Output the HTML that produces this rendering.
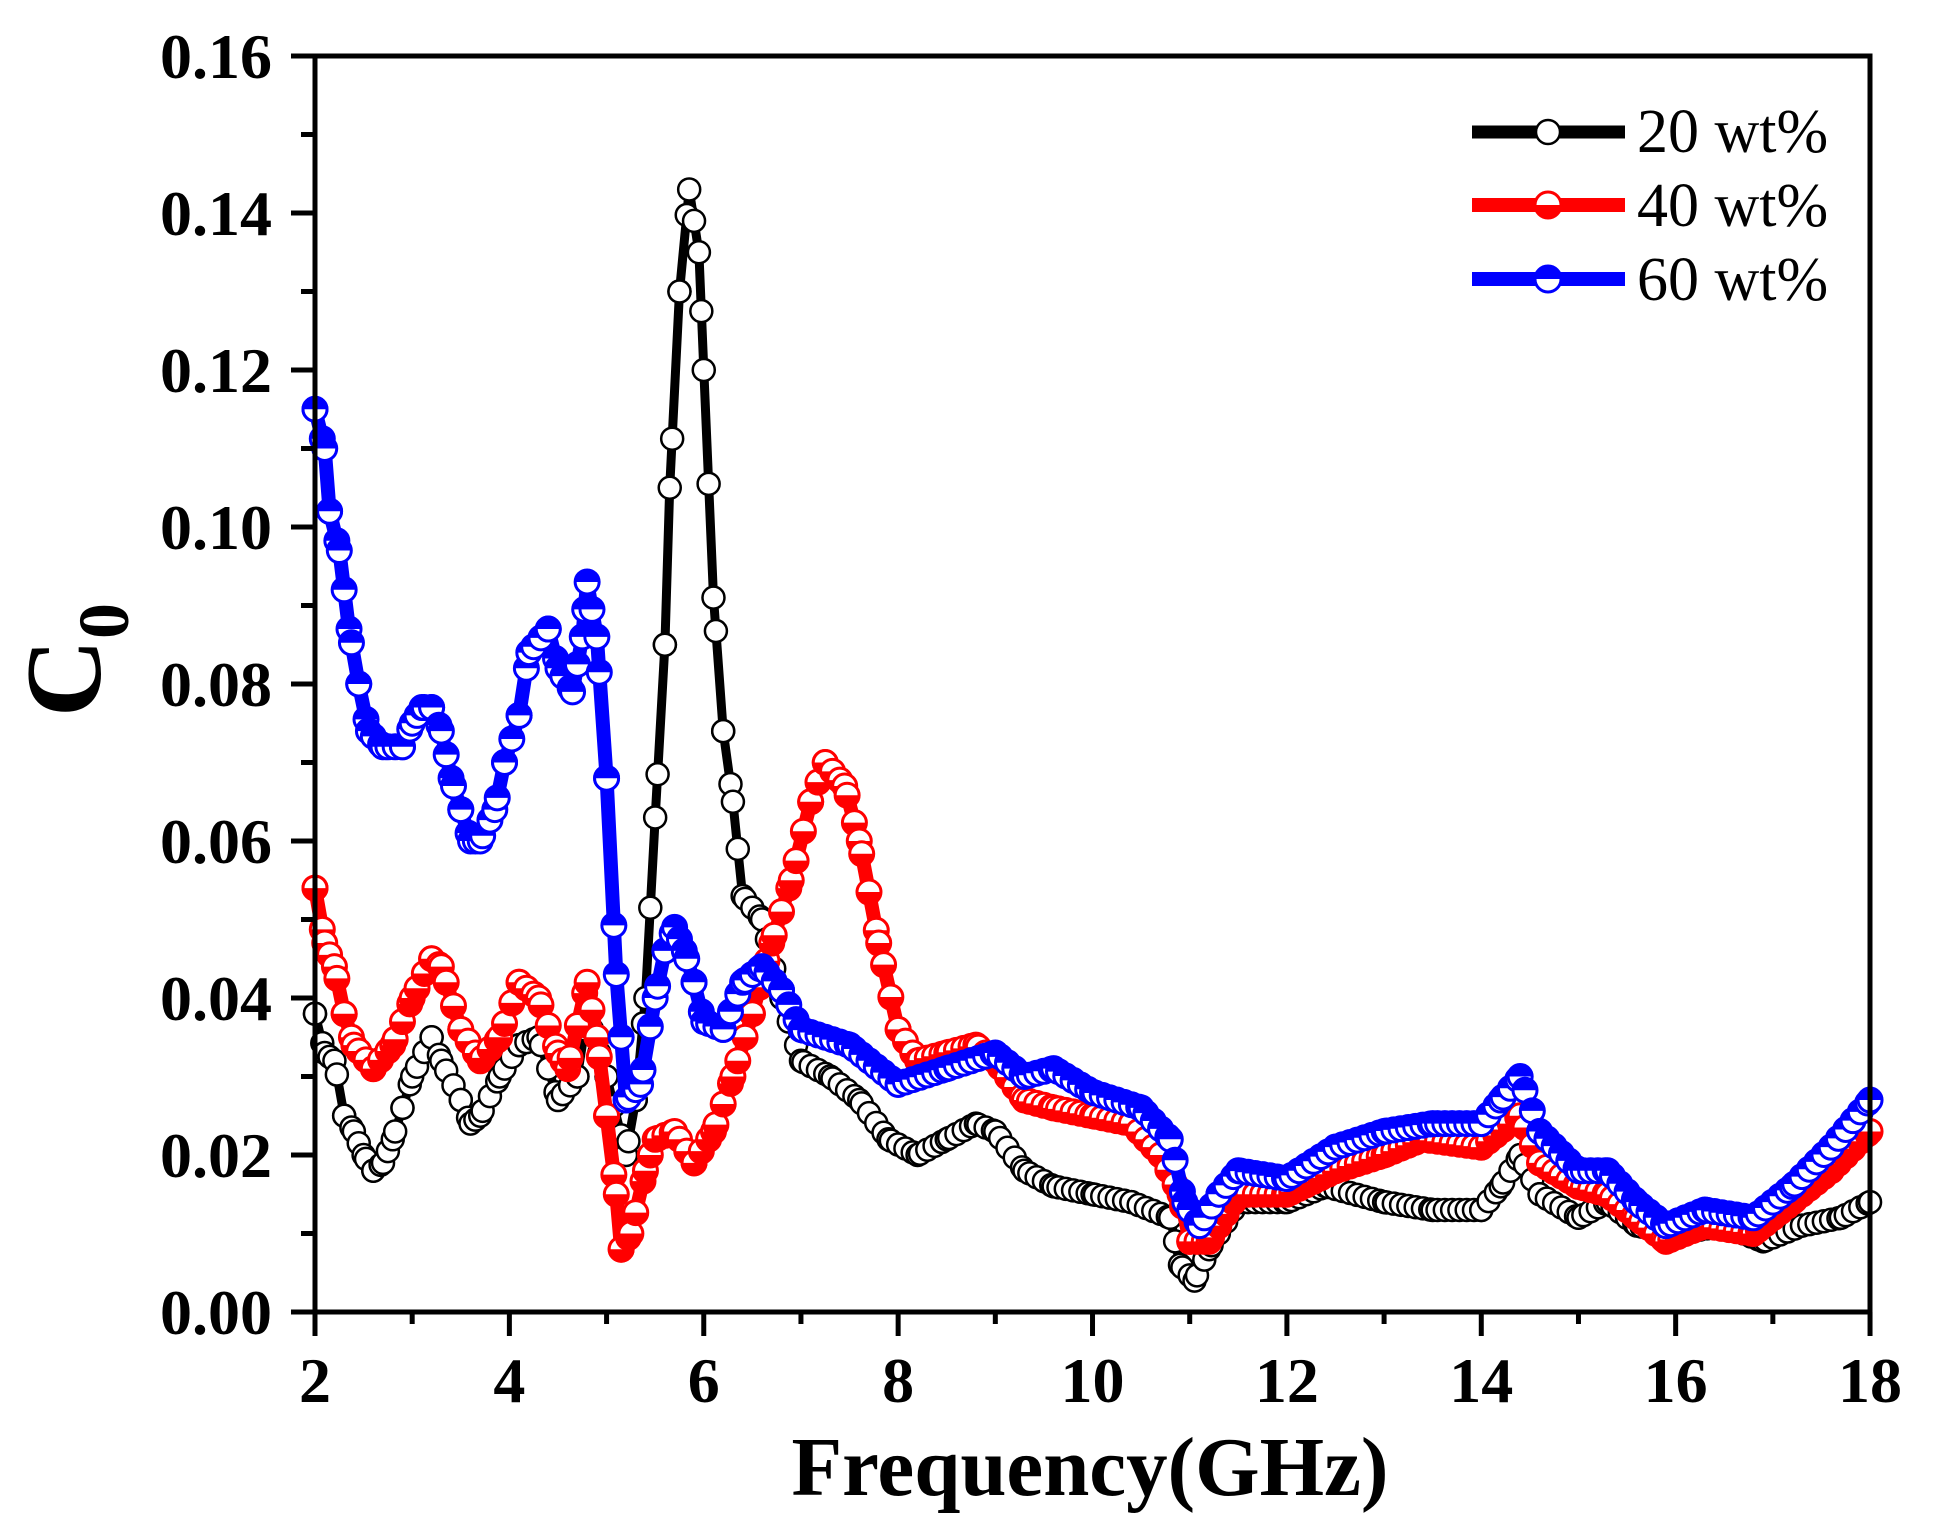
<!DOCTYPE html>
<html><head><meta charset="utf-8"><style>
html,body{margin:0;padding:0;background:#fff;}
svg{display:block;}
text{font-family:"Liberation Serif",serif;font-weight:bold;fill:#000;}
text.lg{font-weight:normal;}
</style></head><body>
<svg id="s" width="1941" height="1529" viewBox="0 0 1941 1529" xmlns="http://www.w3.org/2000/svg">
<rect width="1941" height="1529" fill="#fff"/>
<g id="plot"></g>
<g id="axes"></g>
<g font-size="64" text-anchor="end" id="ylab"></g>
<g font-size="64" text-anchor="middle" id="xlab"></g>
<text x="1090" y="1495" font-size="84" text-anchor="middle" textLength="597" lengthAdjust="spacingAndGlyphs">Frequency(GHz)</text>
<g transform="translate(100,660) rotate(-90)">
<text x="0" y="0" font-size="108" text-anchor="middle">C<tspan font-size="72" dy="28">0</tspan></text>
</g>
<g id="legend"></g>
<text class="lg" x="1637" y="152" font-size="62">20 wt%</text>
<text class="lg" x="1637" y="226" font-size="62">40 wt%</text>
<text class="lg" x="1637" y="300" font-size="62">60 wt%</text>
</svg>
<script>
var NS="http://www.w3.org/2000/svg";
function X(f){return 315+(f-2)*97.19;}
function Y(v){return 1312-v*7850;}
function el(p,t,a){var e=document.createElementNS(NS,t);for(var k in a)e.setAttribute(k,a[k]);p.appendChild(e);return e;}
var black=[[2,0.038],[2.1,0.033],[2.2,0.032],[2.3,0.025],[2.4,0.023],[2.5,0.02],[2.6,0.018],[2.7,0.019],[2.8,0.022],[2.9,0.026],[3.0,0.03],[3.2,0.035],[3.3,0.032],[3.5,0.027],[3.6,0.024],[3.7,0.025],[3.9,0.03],[4.1,0.034],[4.3,0.035],[4.5,0.027],[4.7,0.03],[4.8,0.038],[5.0,0.03],[5.2,0.02],[5.3,0.027],[5.4,0.04],[5.5,0.063],[5.6,0.085],[5.65,0.105],[5.75,0.13],[5.85,0.143],[5.95,0.135],[6.0,0.12],[6.1,0.091],[6.2,0.074],[6.3,0.065],[6.4,0.053],[6.6,0.05],[6.8,0.04],[7.0,0.032],[7.3,0.03],[7.6,0.027],[7.9,0.022],[8.2,0.02],[8.5,0.022],[8.8,0.024],[9.0,0.023],[9.3,0.018],[9.6,0.016],[10,0.015],[10.4,0.014],[10.8,0.012],[10.9,0.006],[11.05,0.004],[11.2,0.008],[11.5,0.014],[12,0.014],[12.4,0.016],[13,0.014],[13.5,0.013],[14,0.013],[14.2,0.016],[14.4,0.02],[14.6,0.015],[15,0.012],[15.3,0.014],[15.6,0.011],[16,0.01],[16.5,0.011],[16.9,0.009],[17.3,0.011],[17.7,0.012],[18,0.014]];
var red=[[2,0.054],[2.1,0.047],[2.2,0.044],[2.3,0.038],[2.4,0.034],[2.6,0.031],[2.8,0.034],[3.0,0.04],[3.2,0.045],[3.3,0.044],[3.5,0.036],[3.7,0.032],[3.9,0.035],[4.1,0.042],[4.3,0.04],[4.5,0.033],[4.6,0.031],[4.8,0.042],[4.9,0.035],[5.0,0.025],[5.1,0.015],[5.15,0.008],[5.25,0.01],[5.4,0.018],[5.5,0.022],[5.7,0.023],[5.9,0.019],[6.1,0.023],[6.3,0.03],[6.5,0.038],[6.7,0.047],[6.9,0.055],[7.1,0.065],[7.25,0.07],[7.45,0.067],[7.6,0.06],[7.8,0.047],[8.0,0.036],[8.2,0.032],[8.5,0.033],[8.8,0.034],[9.0,0.032],[9.3,0.027],[9.6,0.026],[10,0.025],[10.4,0.024],[10.7,0.02],[10.9,0.015],[11.0,0.009],[11.2,0.009],[11.5,0.015],[12,0.015],[12.5,0.018],[13,0.02],[13.4,0.022],[14,0.021],[14.3,0.024],[14.4,0.025],[14.6,0.019],[15,0.016],[15.3,0.015],[15.6,0.012],[15.9,0.009],[16.3,0.011],[16.8,0.01],[17.2,0.014],[17.6,0.018],[18,0.023]];
var blue=[[2,0.115],[2.1,0.11],[2.15,0.102],[2.25,0.097],[2.35,0.087],[2.45,0.08],[2.55,0.074],[2.7,0.072],[2.9,0.072],[3.0,0.075],[3.1,0.077],[3.2,0.077],[3.3,0.074],[3.4,0.068],[3.5,0.064],[3.6,0.06],[3.7,0.06],[3.85,0.064],[3.95,0.07],[4.1,0.076],[4.2,0.084],[4.4,0.087],[4.5,0.082],[4.65,0.079],[4.75,0.086],[4.8,0.093],[4.9,0.086],[5.0,0.068],[5.1,0.043],[5.2,0.027],[5.35,0.029],[5.5,0.04],[5.6,0.046],[5.7,0.049],[5.8,0.046],[5.9,0.042],[6.0,0.037],[6.2,0.036],[6.4,0.042],[6.6,0.044],[6.8,0.041],[7.0,0.036],[7.5,0.034],[8.0,0.029],[8.5,0.031],[9.0,0.033],[9.3,0.03],[9.6,0.031],[10,0.028],[10.5,0.026],[10.8,0.022],[10.95,0.014],[11.1,0.011],[11.3,0.015],[11.5,0.018],[12,0.017],[12.5,0.021],[13,0.023],[13.5,0.024],[14,0.024],[14.2,0.027],[14.4,0.03],[14.6,0.023],[15,0.018],[15.3,0.018],[15.6,0.014],[15.9,0.011],[16.3,0.013],[16.8,0.012],[17.2,0.016],[17.6,0.021],[18,0.027]];
function interp(d,f){for(var i=0;i<d.length-1;i++){if(f<=d[i+1][0]){var t=(f-d[i][0])/(d[i+1][0]-d[i][0]);return d[i][1]+t*(d[i+1][1]-d[i][1]);}}return d[d.length-1][1];}
function half(g,cx,cy,r,col,topFilled){
 el(g,"circle",{cx:cx,cy:cy,r:r,fill:"#fff",stroke:col,"stroke-width":3});
 var d=topFilled?("M"+(cx-r)+","+cy+" A"+r+","+r+" 0 0 1 "+(cx+r)+","+cy+" Z"):("M"+(cx-r)+","+cy+" A"+r+","+r+" 0 0 0 "+(cx+r)+","+cy+" Z");
 el(g,"path",{d:d,fill:col});
}
var plot=document.getElementById("plot");
function series(d,col,lw,kind){
 var g=el(plot,"g",{});
 var pts=d.map(function(p){return X(p[0]).toFixed(1)+","+Y(p[1]).toFixed(1);}).join(" ");
 el(g,"polyline",{points:pts,fill:"none",stroke:col,"stroke-width":lw,"stroke-linejoin":"round"});
 var fs=[];for(var f=2;f<=18.001;f+=0.075)fs.push(f);
 d.forEach(function(p){fs.push(p[0]);});
 fs.sort(function(a,b){return a-b;});
 fs.forEach(function(f){
  var cx=X(f),cy=Y(interp(d,f));
  if(kind==0) el(g,"circle",{cx:cx,cy:cy,r:11,fill:"#fff",stroke:col,"stroke-width":2.5});
  else half(g,cx,cy,12,col,kind==2);
 });
}
series(black,"#000",9,0);
series(red,"#f00",14,1);
series(blue,"#00f",14,2);
var ax=document.getElementById("axes");
el(ax,"rect",{x:315,y:56,width:1555,height:1256,fill:"none",stroke:"#000","stroke-width":5});
var yl=document.getElementById("ylab"),xl=document.getElementById("xlab");
for(var i=0;i<=16;i++){var v=i*0.01,y=Y(v);var L=(i%2==0)?24:14;
 el(ax,"line",{x1:315-L,y1:y,x2:315,y2:y,stroke:"#000","stroke-width":5});
 if(i%2==0){var t=el(yl,"text",{x:272,y:y+22});t.textContent=v.toFixed(2);}
}
for(var f=2;f<=18;f++){var x=X(f);var L=(f%2==0)?24:12;
 el(ax,"line",{x1:x,y1:1312,x2:x,y2:1312+L,stroke:"#000","stroke-width":5});
 if(f%2==0){var t=el(xl,"text",{x:x,y:1402});t.textContent=f;}
}
var lg=document.getElementById("legend");
el(lg,"line",{x1:1472,y1:132,x2:1625,y2:132,stroke:"#000","stroke-width":13});
el(lg,"circle",{cx:1548,cy:132,r:12,fill:"#fff",stroke:"#000","stroke-width":2.5});
el(lg,"line",{x1:1472,y1:205,x2:1625,y2:205,stroke:"#f00","stroke-width":14});
half(lg,1548,205,13,"#f00",false);
el(lg,"line",{x1:1472,y1:279,x2:1625,y2:279,stroke:"#00f","stroke-width":14});
half(lg,1548,279,13,"#00f",true);
</script>
</body></html>
